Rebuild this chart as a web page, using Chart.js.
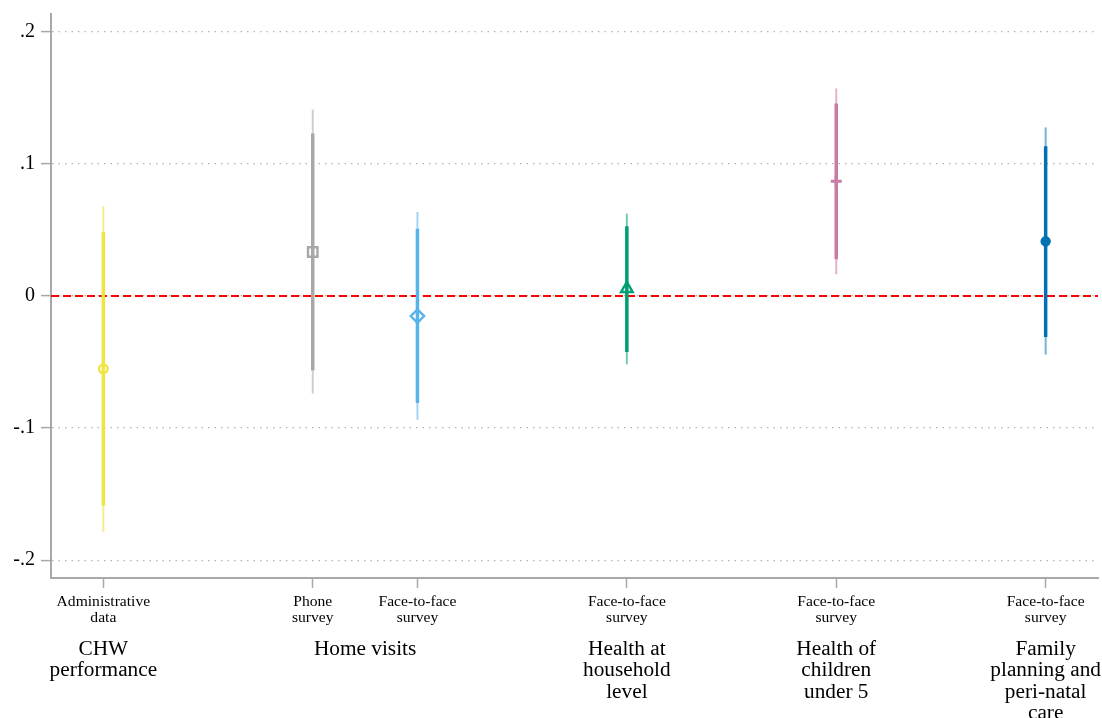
<!DOCTYPE html>
<html>
<head>
<meta charset="utf-8">
<script src="https://cdn.jsdelivr.net/npm/chart.js@4/dist/chart.umd.min.js"></script>
<style>
  html, body { margin: 0; padding: 0; background: #fff; overflow: hidden; }
  canvas { display: block; }
</style>
</head>
<body>
<canvas id="diagram" width="1102" height="718"></canvas>
<script>
// positions on the x axis (groups are spaced apart)
const xPos = [1, 3, 4, 6, 8, 10];
const methodLabels = [
  ["Administrative", "data"],
  ["Phone", "survey"],
  ["Face-to-face", "survey"],
  ["Face-to-face", "survey"],
  ["Face-to-face", "survey"],
  ["Face-to-face", "survey"],
];
const groupPos = [1, 3.5, 6, 8, 10];
const groupLabels = [
  ["CHW", "performance"],
  ["Home visits"],
  ["Health at", "household", "level"],
  ["Health of", "children", "under 5"],
  ["Family", "planning and", "peri-natal", "care"],
];

// point estimates and confidence intervals
const estimates = [-0.0551, 0.0333, -0.0152, 0.0056, 0.0869, 0.0414];
const innerLow = [-0.1586, -0.0563, -0.081, -0.0424, 0.0278, -0.0311];
const innerHigh = [0.0485, 0.123, 0.051, 0.0528, 0.1457, 0.1134];
const outerLow = [-0.1788, -0.0739, -0.0937, -0.0517, 0.0164, -0.0444];
const outerHigh = [0.068, 0.1412, 0.0636, 0.0624, 0.1571, 0.1276];

const yTicks = [-0.2, -0.1, 0, 0.1, 0.2];

const colors = ["#F0E442", "#A8A8A8", "#56B4E9", "#009E73", "#CC79A7", "#0072B2"];
const outerColors = ["#F5EC8A", "#CFCFCF", "#A0D4F2", "#75C9B3", "#E2B3CE", "#78B2D6"];
const markers = ["circle", "rect", "rectRot", "triangle", "cross", "circle"];
const markerFill = [false, false, false, false, false, true];
const markerSize = [4.3, 6.7, 6.7, 6.7, 5.5, 4.2];
const markerWidth = [2.4, 2.4, 2.4, 2.4, 3, 2];

const serif = "'Liberation Serif', 'DejaVu Serif', serif";

const datasets = [];

// zero reference line
datasets.push({
  data: [{ x: 0.5, y: 0 }, { x: 10.5, y: 0 }],
  showLine: true,
  borderColor: "#FF0000",
  borderWidth: 2,
  borderDash: [8, 4],
  pointRadius: 0,
  order: 10,
});

xPos.forEach((x, i) => {
  // outer interval
  datasets.push({
    data: [{ x: x, y: outerLow[i] }, { x: x, y: outerHigh[i] }],
    showLine: true,
    borderColor: outerColors[i],
    borderWidth: 2,
    borderCapStyle: "butt",
    pointRadius: 0,
    order: 5,
  });
  // inner interval
  datasets.push({
    data: [{ x: x, y: innerLow[i] }, { x: x, y: innerHigh[i] }],
    showLine: true,
    borderColor: colors[i],
    borderWidth: 3.5,
    borderCapStyle: "butt",
    pointRadius: 0,
    order: 4,
  });
  // estimate
  datasets.push({
    data: [{ x: x, y: estimates[i] }],
    pointStyle: markers[i],
    pointRadius: markerSize[i],
    pointBorderWidth: markerWidth[i],
    pointBorderColor: colors[i],
    pointBackgroundColor: markerFill[i] ? colors[i] : "rgba(0,0,0,0)",
    order: 1,
  });
});

// group names drawn below the method labels
const groupLabelPlugin = {
  id: "groupLabels",
  afterDraw(chart) {
    const ctx = chart.ctx;
    const xs = chart.scales.x;
    const top = chart.chartArea.bottom + 71;
    ctx.save();
    ctx.font = "21.3px " + serif;
    ctx.fillStyle = "#000";
    ctx.textAlign = "center";
    ctx.textBaseline = "middle";
    groupPos.forEach((g, i) => {
      const px = xs.getPixelForValue(g);
      groupLabels[i].forEach((line, j) => {
        ctx.fillText(line, px, top + j * 21.5);
      });
    });
    ctx.restore();
  },
};

// drop the extra room Chart.js keeps for edge labels
function noScalePadding(scale) {
  scale.paddingTop = 0;
  scale.paddingBottom = 0;
  scale.paddingLeft = 0;
  scale.paddingRight = 0;
}

const config = {
  type: "scatter",
  data: { datasets },
  options: {
    responsive: false,
    animation: false,
    layout: {
      autoPadding: false,
      padding: { top: 14, right: 4, left: 0, bottom: 0 },
    },
    plugins: {
      legend: { display: false },
      tooltip: { enabled: false },
    },
    scales: {
      x: {
        type: "linear",
        min: 0.5,
        max: 10.5,
        afterBuildTicks: (scale) => {
          scale.ticks = xPos.map((v) => ({ value: v }));
        },
        afterFit: (scale) => {
          scale.height = 140;
          noScalePadding(scale);
        },
        grid: {
          drawOnChartArea: false,
          drawTicks: true,
          tickLength: 10,
          tickColor: "#A8A8A8",
          tickWidth: 1.5,
        },
        border: { color: "#A8A8A8", width: 2 },
        ticks: {
          autoSkip: false,
          maxRotation: 0,
          padding: 6,
          color: "#000",
          font: { family: serif, size: 15.6, lineHeight: 1.03 },
          callback: (v) => {
            const i = xPos.indexOf(v);
            return i >= 0 ? methodLabels[i] : "";
          },
        },
      },
      y: {
        min: -0.2135,
        max: 0.2135,
        afterBuildTicks: (scale) => {
          scale.ticks = yTicks.map((v) => ({ value: v }));
        },
        afterFit: (scale) => {
          scale.width = 51;
          noScalePadding(scale);
        },
        grid: {
          color: "#B4B4B4",
          lineWidth: 1.2,
          drawTicks: true,
          tickLength: 10,
          tickColor: "#A8A8A8",
          tickWidth: 1.5,
        },
        border: { color: "#A8A8A8", width: 2, dash: [1.5, 5] },
        ticks: {
          padding: 6,
          color: "#000",
          font: { family: serif, size: 20 },
          callback: (v) => {
            if (v === 0) return "0";
            const s = Math.abs(v).toFixed(1).replace(/^0/, "");
            return (v < 0 ? "-" : "") + s;
          },
        },
      },
    },
  },
  plugins: [groupLabelPlugin],
};

const canvas = document.getElementById("diagram");
new Chart(canvas, config);
</script>
</body>
</html>
